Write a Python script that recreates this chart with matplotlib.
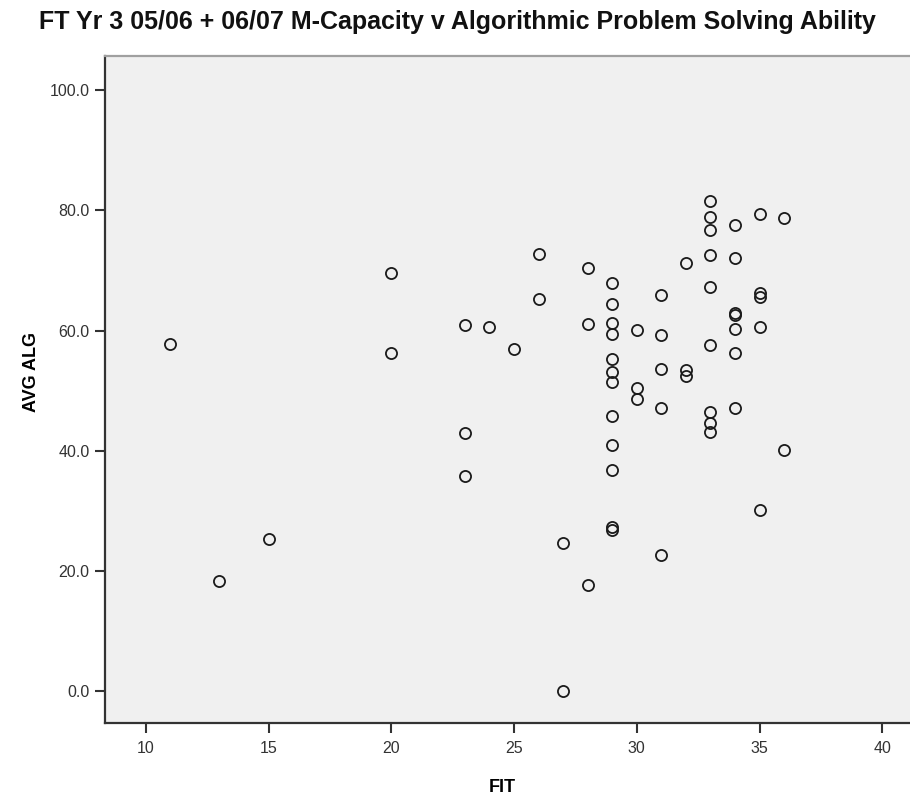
import numpy as np
import matplotlib
matplotlib.use('Agg')
import matplotlib.pyplot as plt

plt.rcParams['font.family'] = ['Liberation Sans', 'DejaVu Sans']

# FIT score -> AVG ALG values
fit = ([11, 13, 15, 20, 20, 23, 23, 23, 24, 25, 26, 26, 27, 27, 28, 28, 28]
       + [29] * 12 + [30] * 3 + [31] * 5 + [32] * 3 + [33] * 9 + [34] * 7
       + [35] * 5 + [36] * 2)
alg = [57.8, 18.3, 25.4, 69.6, 56.3, 60.9, 43.0, 35.8, 60.6, 57.0, 72.7, 65.3,
       24.7, 0.0, 70.4, 61.1, 17.7,
       68.0, 64.5, 61.3, 59.4, 55.3, 53.2, 51.5, 45.8, 40.9, 36.9, 27.4, 26.9,
       60.1, 50.4, 48.6,
       65.9, 59.3, 53.7, 47.1, 22.7,
       71.3, 53.4, 52.4,
       81.6, 78.9, 76.8, 72.5, 67.3, 57.6, 46.4, 44.6, 43.2,
       77.6, 72.0, 63.0, 62.6, 60.3, 56.3, 47.1,
       79.4, 66.2, 65.6, 60.6, 30.2,
       78.7, 40.1]

xticks = [10, 15, 20, 25, 30, 35, 40]
yticks = [0, 20, 40, 60, 80, 100]

fig = plt.figure(figsize=(9.1, 7.97), dpi=100)
ax = fig.add_axes([105 / 910, 74 / 797, 805 / 910, 667 / 797])
ax.set_facecolor('#f0f0f0')

ax.plot(fit, alg, linestyle='none', marker='o', markersize=8,
        markerfacecolor='none', markeredgecolor='#1a1a1a', markeredgewidth=1.3)

ax.set_xlim(8.34, 41.13)
ax.set_ylim(-5.24, 105.66)
ax.set_xticks(xticks)
ax.set_yticks(yticks)
ax.set_yticklabels(['%.1f' % v for v in yticks])
ax.tick_params(axis='both', direction='out', length=7, width=1.5, color='#333333',
               labelsize=11.5, labelcolor='#333333')
ax.tick_params(axis='y', pad=4)
ax.tick_params(axis='x', pad=6)

for s in ['left', 'bottom']:
    ax.spines[s].set_color('#333333')
    ax.spines[s].set_linewidth(1.6)
ax.spines['top'].set_color('#a0a0a0')
ax.spines['top'].set_linewidth(1.6)
ax.spines['right'].set_visible(False)

ax.set_xlabel('FIT', fontsize=13, fontweight='bold', va='center')
ax.xaxis.set_label_coords(0.493, -0.096)
ax.set_ylabel('AVG ALG', fontsize=13, fontweight='bold', va='center')
ax.yaxis.set_label_coords(-0.091, 0.526)

fig.text(457 / 910, 1 - 22 / 797,
         'FT Yr 3 05/06 + 06/07 M-Capacity v Algorithmic Problem Solving Ability',
         ha='center', va='center', fontsize=18, fontweight='bold', color='#111111')

fig.savefig('out.png', dpi=100)
